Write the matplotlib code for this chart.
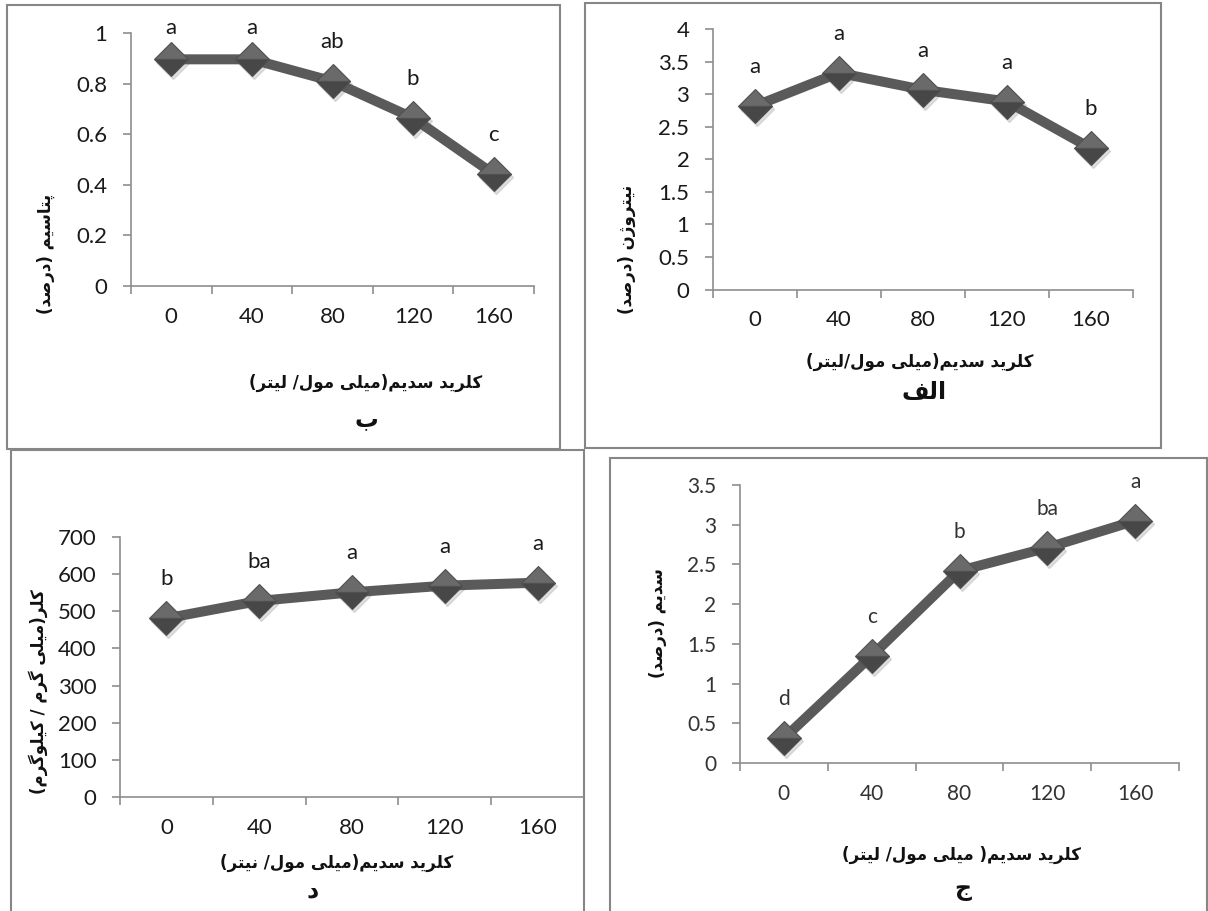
import matplotlib
matplotlib.use('Agg')
import matplotlib.pyplot as plt
from matplotlib.patches import Rectangle
from matplotlib.transforms import offset_copy

# ---------------- data ----------------
x_tick_labels = ['0', '40', '80', '120', '160']

potassium = [0.897, 0.897, 0.81, 0.665, 0.443]
potassium_letters = ['a', 'a', 'ab', 'b', 'c']
potassium_yticks = [0, 0.2, 0.4, 0.6, 0.8, 1]

nitrogen = [2.82, 3.33, 3.07, 2.89, 2.17]
nitrogen_letters = ['a', 'a', 'a', 'a', 'b']
nitrogen_yticks = [0, 0.5, 1, 1.5, 2, 2.5, 3, 3.5, 4]

chlorine = [481, 528, 551, 569, 577]
chlorine_letters = ['b', 'ba', 'a', 'a', 'a']
chlorine_yticks = [0, 100, 200, 300, 400, 500, 600, 700]

sodium = [0.31, 1.35, 2.42, 2.71, 3.05]
sodium_letters = ['d', 'c', 'b', 'ba', 'a']
sodium_yticks = [0, 0.5, 1, 1.5, 2, 2.5, 3, 3.5]

# text (logical order)
ylab_k = 'پتاسیم (درصد)'
xlab_k = 'کلرید سدیم(میلی مول/ لیتر)'
tag_k = 'ب'
ylab_n = 'نیتروژن (درصد)'
xlab_n = 'کلرید سدیم(میلی مول/لیتر)'
tag_n = 'الف'
ylab_cl = 'کلر(میلی گرم / کیلوگرم)'
xlab_cl = 'کلرید سدیم(میلی مول/ نیتر)'
tag_cl = 'د'
ylab_na = 'سدیم (درصد)'
xlab_na = 'کلرید سدیم( میلی مول/ لیتر)'
tag_na = 'ج'

# ---------------- simple Arabic/Persian shaping ----------------
FORMS = {
    'ا': (0xFE8D, 0xFE8E, None, None),
    'ب': (0xFE8F, 0xFE90, 0xFE91, 0xFE92),
    'پ': (0xFB56, 0xFB57, 0xFB58, 0xFB59),
    'ت': (0xFE95, 0xFE96, 0xFE97, 0xFE98),
    'ج': (0xFE9D, 0xFE9E, 0xFE9F, 0xFEA0),
    'د': (0xFEA9, 0xFEAA, None, None),
    'ر': (0xFEAD, 0xFEAE, None, None),
    'ز': (0xFEAF, 0xFEB0, None, None),
    'ژ': (0xFB8A, 0xFB8B, None, None),
    'س': (0xFEB1, 0xFEB2, 0xFEB3, 0xFEB4),
    'ص': (0xFEB9, 0xFEBA, 0xFEBB, 0xFEBC),
    'ف': (0xFED1, 0xFED2, 0xFED3, 0xFED4),
    'ک': (0xFB8E, 0xFB8F, 0xFB90, 0xFB91),
    'گ': (0xFB92, 0xFB93, 0xFB94, 0xFB95),
    'ل': (0xFEDD, 0xFEDE, 0xFEDF, 0xFEE0),
    'م': (0xFEE1, 0xFEE2, 0xFEE3, 0xFEE4),
    'ن': (0xFEE5, 0xFEE6, 0xFEE7, 0xFEE8),
    'و': (0xFEED, 0xFEEE, None, None),
    'ه': (0xFEE9, 0xFEEA, 0xFEEB, 0xFEEC),
    'ی': (0xFBFC, 0xFBFD, 0xFBFE, 0xFBFF),
}


def _dual(c):
    f = FORMS.get(c)
    return f is not None and f[2] is not None


def rtl(s):
    chars = list(s)
    n = len(chars)
    res = []
    i = 0
    while i < n:
        c = chars[i]
        if c not in FORMS:
            res.append(c)
            i += 1
            continue
        prev = chars[i - 1] if i > 0 else None
        jp = prev is not None and _dual(prev)
        if c == 'ل' and i + 1 < n and chars[i + 1] == 'ا':
            res.append(chr(0xFEFC if jp else 0xFEFB))
            i += 2
            continue
        nxt = chars[i + 1] if i + 1 < n else None
        jn = _dual(c) and nxt in FORMS
        iso, fin, ini, med = FORMS[c]
        if jp and jn:
            g = med
        elif jp:
            g = fin
        elif jn:
            g = ini
        else:
            g = iso
        res.append(chr(g))
        i += 1
    mirror = {'(': ')', ')': '('}
    return ''.join(mirror.get(ch, ch) for ch in reversed(res))


# ---------------- figure ----------------
W, H = 1208, 911
fig = plt.figure(figsize=(W / 100, H / 100), dpi=100)
fig.patch.set_facecolor('white')

LATIN = ['Lato', 'DejaVu Sans']
ARAB = ['DejaVu Sans']
LINE_C = '#5a5a5a'
AXIS_C = '#8e8e8e'
BOX_C = '#868686'


def fx(x):
    return x / W


def fy(y):
    return 1 - y / H


def box(x0, y0, x1, y1):
    fig.add_artist(Rectangle((fx(x0), fy(y1)), fx(x1) - fx(x0), fy(y0) - fy(y1),
                             transform=fig.transFigure, fill=False,
                             edgecolor=BOX_C, linewidth=1.5, zorder=10))


def panel(rect, values, letters, yticks, ylab, ylab_xy, xlab, xlab_xy, tag, tag_xy,
          tick_fs=16, tick_color='#1a1a1a'):
    l, t, r, b = rect
    ax = fig.add_axes([fx(l), fy(b), fx(r) - fx(l), fy(t) - fy(b)])
    xs = list(range(len(values)))
    ax.set_xlim(-0.5, len(values) - 0.5)
    ax.set_ylim(yticks[0], yticks[-1])
    for s in ['top', 'right']:
        ax.spines[s].set_visible(False)
    for s in ['left', 'bottom']:
        ax.spines[s].set_color(AXIS_C)
        ax.spines[s].set_linewidth(1.2)
    ax.set_yticks(yticks)
    ax.set_yticklabels(['%g' % v for v in yticks], fontfamily=LATIN,
                       fontsize=tick_fs, color=tick_color)
    ax.set_xticks(xs)
    ax.set_xticklabels(x_tick_labels, fontfamily=LATIN, fontsize=tick_fs,
                       color=tick_color)
    ax.set_xticks([i - 0.5 for i in range(len(values) + 1)], minor=True)
    ax.tick_params(axis='x', which='major', length=0, pad=15)
    ax.tick_params(axis='x', which='minor', length=6, width=1.2,
                   color=AXIS_C, direction='out')
    ax.tick_params(axis='y', which='major', length=6, width=1.2,
                   color=AXIS_C, direction='out', pad=11)
    ax.set_facecolor('none')

    shadow = offset_copy(ax.transData, fig=fig, x=2, y=-3, units='dots')
    ax.plot(xs, values, linestyle='none', marker='D', markersize=17.5,
            color='#b8b8b8', alpha=0.45, transform=shadow, zorder=2,
            clip_on=False)
    ax.plot(xs, values, color=LINE_C, linewidth=7.2, solid_capstyle='butt',
            zorder=3, clip_on=False)
    ax.plot(xs, values, linestyle='none', marker='D', markersize=17.5,
            markerfacecolor='#6a6a6a', markerfacecoloralt='#474747',
            fillstyle='top', markeredgecolor='#505050', markeredgewidth=0.8,
            zorder=4, clip_on=False)

    fig.canvas.draw()
    top_px = ax.transAxes.transform((0, 1))[1]
    for i, (v, let) in enumerate(zip(values, letters)):
        py = ax.transData.transform((i, v))[1]
        off = min(39, top_px + 5 - py)
        ax.annotate(let, xy=(i, v), xytext=(0, off), textcoords='offset pixels',
                    ha='center', va='center', fontfamily=LATIN,
                    fontsize=tick_fs, color=tick_color, annotation_clip=False)

    fig.text(fx(ylab_xy[0]), fy(ylab_xy[1]), rtl(ylab), rotation=90,
             ha='center', va='center', fontfamily=ARAB, fontweight='bold',
             fontsize=12, color='#111111')
    fig.text(fx(xlab_xy[0]), fy(xlab_xy[1]), rtl(xlab), ha='center',
             va='center', fontfamily=ARAB, fontweight='bold', fontsize=12,
             color='#111111')
    fig.text(fx(tag_xy[0]), fy(tag_xy[1]), rtl(tag), ha='center', va='center',
             fontfamily=ARAB, fontweight='bold', fontsize=17, color='#111111')
    return ax


# panel frames
box(7, 5, 560, 449)
box(585, 3, 1161, 448)
box(11, 450, 584, 916)
box(610, 458, 1207, 916)

# ب  (potassium)
panel((131, 33.3, 534, 286), potassium, potassium_letters, potassium_yticks,
      ylab_k, (46, 254), xlab_k, (366, 383), tag_k, (366, 419))
# الف (nitrogen)
panel((713, 29.3, 1133, 289.5), nitrogen, nitrogen_letters, nitrogen_yticks,
      ylab_n, (627, 249), xlab_n, (920, 362), tag_n, (924, 392))
# د (chlorine)
panel((120, 537, 584, 797), chlorine, chlorine_letters, chlorine_yticks,
      ylab_cl, (38, 692), xlab_cl, (337, 863), tag_cl, (313, 890))
# ج (sodium)
panel((740, 485, 1179, 763), sodium, sodium_letters, sodium_yticks,
      ylab_na, (658, 623), xlab_na, (961, 855), tag_na, (963, 889),
      tick_fs=15, tick_color='#333333')

fig.savefig('out.png', dpi=100, facecolor='white')
